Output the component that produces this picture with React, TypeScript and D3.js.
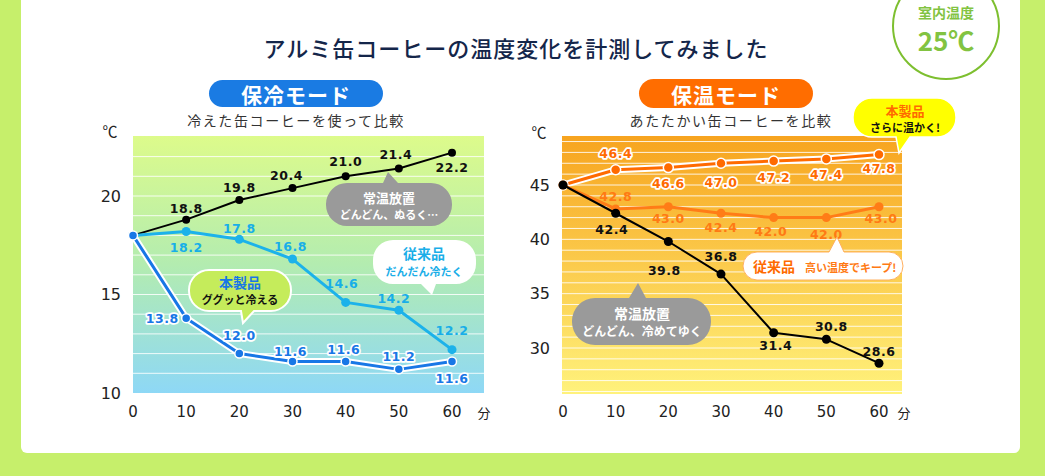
import React from 'react';
import * as d3 from 'd3';

const minutes = [0, 10, 20, 30, 40, 50, 60];
const xTickLabels = ['0', '10', '20', '30', '40', '50', '60'];

const coldRoom = [18, 18.8, 19.8, 20.4, 21.0, 21.4, 22.2];
const coldConventional = [18, 18.2, 17.8, 16.8, 14.6, 14.2, 12.2];
const coldProduct = [18, 13.8, 12.0, 11.6, 11.6, 11.2, 11.6];
const coldYTicks = [10, 15, 20];

const hotProduct = [45, 46.4, 46.6, 47.0, 47.2, 47.4, 47.8];
const hotConventional = [45, 42.8, 43.0, 42.4, 42.0, 42.0, 43.0];
const hotRoom = [45, 42.4, 39.8, 36.8, 31.4, 30.8, 28.6];
const hotYTicks = [30, 35, 40, 45];

// label offsets [dx, dy] relative to point (index 0 has no label)
const coldRoomOff = [[0, 0], [0, -11], [0, -12], [-6, -13], [0, -15], [-3, -14], [0, 15]];
const coldConvOff = [[0, 0], [0, 16], [0, -11], [-2, -13], [-4, -19], [-5, -12], [0, -19]];
const coldProdOff = [[0, 0], [-24, 0], [0, -18], [-2, -10], [-2, -12], [0, -13], [0, 17]];
const hotProdOff = [[0, 0], [0, -16], [0, 16], [0, 19], [0, 16], [0, 16], [0, 14]];
const hotConvOff = [[0, 0], [0, -12], [0, 12], [0, 14], [-3, 14], [0, 17], [2, 12]];
const hotRoomOff = [[0, 0], [-4, 16], [-4, 29], [0, -18], [2, 13], [5, -13], [0, -12]];

const JP = "'Noto Sans CJK JP','Noto Sans',sans-serif";
const NUM = "'DejaVu Sans',sans-serif";

function bubblePath(x: number, y: number, w: number, h: number, r: number,
  side: 'top' | 'bottom', x1: number, x2: number, tx: number, ty: number) {
  let p = `M${x + r},${y}`;
  if (side === 'top') p += `L${x1},${y}L${tx},${ty}L${x2},${y}`;
  p += `L${x + w - r},${y}A${r},${r} 0 0 1 ${x + w},${y + r}`;
  p += `L${x + w},${y + h - r}A${r},${r} 0 0 1 ${x + w - r},${y + h}`;
  if (side === 'bottom') p += `L${x2},${y + h}L${tx},${ty}L${x1},${y + h}`;
  p += `L${x + r},${y + h}A${r},${r} 0 0 1 ${x},${y + h - r}`;
  p += `L${x},${y + r}A${r},${r} 0 0 1 ${x + r},${y}Z`;
  return p;
}

type Series = {
  values: number[];
  color: string;
  width: number;
  halo: boolean;
  dotR: number;
  labelColor: string;
  labelHalo: boolean;
  offsets: number[][];
};

function SeriesView({ s, x, y }: { s: Series; x: d3.ScaleLinear<number, number>; y: d3.ScaleLinear<number, number> }) {
  const line = d3.line<number>().x((_, i) => x(minutes[i])).y(d => y(d));
  const d = line(s.values) || '';
  return (
    <g>
      {s.halo && <path d={d} fill="none" stroke="#fff" strokeWidth={s.width + 4} strokeLinejoin="round" />}
      <path d={d} fill="none" stroke={s.color} strokeWidth={s.width} strokeLinejoin="round" />
      {s.values.map((v, i) => (
        <circle key={i} cx={x(minutes[i])} cy={y(v)} r={s.dotR} fill={s.color}
          stroke={s.halo ? '#fff' : 'none'} strokeWidth={s.halo ? 1.5 : 0} />
      ))}
    </g>
  );
}

function SeriesLabels({ s, x, y }: { s: Series; x: d3.ScaleLinear<number, number>; y: d3.ScaleLinear<number, number> }) {
  return (
    <g>
      {s.values.map((v, i) => i === 0 ? null : (
        <text key={i} x={x(minutes[i]) + s.offsets[i][0]} y={y(v) + s.offsets[i][1]}
          textAnchor="middle" dominantBaseline="central" fontFamily={NUM} fontWeight="bold" fontSize={12.5}
          fill={s.labelColor} stroke={s.labelHalo ? '#fff' : 'none'} strokeWidth={s.labelHalo ? 3.5 : 0}
          strokeLinejoin="round" style={{ paintOrder: 'stroke' }} letterSpacing={0.5}>
          {v.toFixed(1)}
        </text>
      ))}
    </g>
  );
}

type ChartCfg = {
  id: string;
  plotL: number; plotR: number; plotT: number; plotB: number;
  x: d3.ScaleLinear<number, number>;
  y: d3.ScaleLinear<number, number>;
  yTicks: number[];
  grid: number[];
  gradTop: string; gradMid: string; gradBot: string;
  series: Series[];
  degX: number; degY: number;
  bunX: number;
};

function Chart({ c }: { c: ChartCfg }) {
  return (
    <g>
      <defs>
        <linearGradient id={c.id} x1="0" y1="0" x2="0" y2="1">
          <stop offset="0" stopColor={c.gradTop} />
          <stop offset="0.5" stopColor={c.gradMid} />
          <stop offset="1" stopColor={c.gradBot} />
        </linearGradient>
      </defs>
      <rect x={c.plotL} y={c.plotT} width={c.plotR - c.plotL} height={c.plotB - c.plotT} fill={`url(#${c.id})`} />
      {c.grid.map(g => (
        <line key={g} x1={c.plotL} x2={c.plotR} y1={c.y(g)} y2={c.y(g)} stroke="#fff" strokeOpacity={0.85} strokeWidth={1} />
      ))}
      {c.yTicks.map(t => (
        <text key={t} x={c.plotL - 12} y={c.y(t)} textAnchor="end" dominantBaseline="central"
          fontFamily={NUM} fontSize={16} fill="#222">{t}</text>
      ))}
      <text x={c.degX} y={c.degY} textAnchor="middle" dominantBaseline="central" fontFamily={JP} fontSize={15} fill="#222">℃</text>
      {minutes.map((m, i) => (
        <text key={m} x={c.x(m)} y={412} textAnchor="middle" dominantBaseline="central"
          fontFamily={NUM} fontSize={15} fill="#222">{xTickLabels[i]}</text>
      ))}
      <text x={c.bunX} y={412} textAnchor="middle" dominantBaseline="central" fontFamily={JP} fontSize={13} fill="#222">分</text>
      {c.series.map((s, i) => <SeriesView key={i} s={s} x={c.x} y={c.y} />)}
      {c.series.map((s, i) => <SeriesLabels key={i} s={s} x={c.x} y={c.y} />)}
    </g>
  );
}

export default function App() {
  const xL = d3.scaleLinear().domain([0, 60]).range([133, 452]);
  const yL = d3.scaleLinear().domain([10, 20]).range([393, 196]);
  const xR = d3.scaleLinear().domain([0, 60]).range([563, 879]);
  const yR = d3.scaleLinear().domain([30, 45]).range([348, 185]);

  const left: ChartCfg = {
    id: 'gradCold', plotL: 133, plotR: 484, plotT: 136, plotB: 393, x: xL, y: yL,
    yTicks: coldYTicks, grid: d3.range(11, 23, 1),
    gradTop: '#ddfb8b', gradMid: '#b3ecb0', gradBot: '#8ed8f6',
    degX: 110, degY: 130, bunX: 484,
    series: [
      { values: coldRoom, color: '#000', width: 2, halo: false, dotR: 4, labelColor: '#111', labelHalo: false, offsets: coldRoomOff },
      { values: coldConventional, color: '#1cb2ea', width: 3, halo: false, dotR: 4.5, labelColor: '#17aee8', labelHalo: false, offsets: coldConvOff },
      { values: coldProduct, color: '#1877e6', width: 3, halo: true, dotR: 4.5, labelColor: '#1877e6', labelHalo: true, offsets: coldProdOff },
    ],
  };
  const right: ChartCfg = {
    id: 'gradHot', plotL: 562, plotR: 902, plotT: 136, plotB: 394, x: xR, y: yR,
    yTicks: hotYTicks, grid: d3.range(26, 50, 1),
    gradTop: '#f7a41f', gradMid: '#fbcb4c', gradBot: '#fff27c',
    degX: 539, degY: 131, bunX: 904,
    series: [
      { values: hotProduct, color: '#ff6a00', width: 3, halo: true, dotR: 5, labelColor: '#ff6a00', labelHalo: true, offsets: hotProdOff },
      { values: hotConventional, color: '#ff7c17', width: 3, halo: false, dotR: 4.5, labelColor: '#ff7a14', labelHalo: false, offsets: hotConvOff },
      { values: hotRoom, color: '#000', width: 2, halo: false, dotR: 4.5, labelColor: '#111', labelHalo: false, offsets: hotRoomOff },
    ],
  };

  return (
    <svg width={1045} height={476} style={{ position: 'absolute', left: 0, top: 0 }}>
      <rect x={0} y={0} width={1045} height={476} fill="#c6ef6b" />
      <rect x={21} y={-10} width={999} height={463} rx={6} fill="#fff" />

      <text x={516} y={47} textAnchor="middle" dominantBaseline="central" fontFamily={JP} fontSize={22}
        fontWeight={500} letterSpacing={1} fill="#14264a">アルミ缶コーヒーの温度変化を計測してみました</text>

      {/* badge */}
      <circle cx={946} cy={26} r={53} fill="#fff" stroke="#7dbf2f" strokeWidth={2} />
      <text x={946} y={12} textAnchor="middle" dominantBaseline="central" fontFamily={JP} fontWeight="bold" fontSize={14} fill="#82c341">室内温度</text>
      <text x={946} y={39} textAnchor="middle" dominantBaseline="central" fontFamily={JP} fontWeight="bold" fontSize={26} fill="#82c341">25℃</text>

      {/* pills */}
      <rect x={209} y={80} width={174} height={27} rx={13.5} fill="#1a7be3" />
      <text x={296} y={94} textAnchor="middle" dominantBaseline="central" fontFamily={JP} fontWeight="bold" fontSize={21} letterSpacing={1} fill="#fff">保冷モード</text>
      <text x={296} y={120} textAnchor="middle" dominantBaseline="central" fontFamily={JP} fontSize={14} letterSpacing={1.6} fill="#333">冷えた缶コーヒーを使って比較</text>

      <rect x={639} y={79} width={174} height={29} rx={14.5} fill="#ff6d00" />
      <text x={726} y={94} textAnchor="middle" dominantBaseline="central" fontFamily={JP} fontWeight="bold" fontSize={21} letterSpacing={1} fill="#fff">保温モード</text>
      <text x={731} y={120} textAnchor="middle" dominantBaseline="central" fontFamily={JP} fontSize={14} letterSpacing={1.6} fill="#333">あたたかい缶コーヒーを比較</text>

      <Chart c={left} />
      <Chart c={right} />

      {/* left bubbles */}
      <path d={bubblePath(326, 183, 126, 43, 21, 'top', 383, 398, 388, 172)} fill="#9a9a9a" />
      <text x={389} y={197} textAnchor="middle" dominantBaseline="central" fontFamily={JP} fontWeight="bold" fontSize={13} fill="#fff">常温放置</text>
      <text x={389} y={214} textAnchor="middle" dominantBaseline="central" fontFamily={JP} fontWeight="bold" fontSize={11} fill="#fff">どんどん、ぬるく…</text>

      <path d={bubblePath(373, 240, 103, 44, 20, 'bottom', 421, 436, 432, 295)} fill="#fff" />
      <text x={424} y={253} textAnchor="middle" dominantBaseline="central" fontFamily={JP} fontWeight="bold" fontSize={14} fill="#1aaee8">従来品</text>
      <text x={424} y={271} textAnchor="middle" dominantBaseline="central" fontFamily={JP} fontWeight="bold" fontSize={11} fill="#1aaee8">だんだん冷たく</text>

      <path d={bubblePath(189, 270, 102, 41, 20, 'bottom', 241, 254, 243, 323)} fill="#c5ec5b" stroke="#fff" strokeWidth={2} />
      <text x={240} y={282} textAnchor="middle" dominantBaseline="central" fontFamily={JP} fontWeight="bold" fontSize={14} fill="#1877e6">本製品</text>
      <text x={240} y={299} textAnchor="middle" dominantBaseline="central" fontFamily={JP} fontWeight="bold" fontSize={11} fill="#111">ググッと冷える</text>

      {/* right bubbles */}
      <path d={bubblePath(853, 98, 103, 39, 19, 'bottom', 896, 910, 899, 153)} fill="#ffff00" stroke="#fff" strokeWidth={1.5} />
      <text x={905} y={110} textAnchor="middle" dominantBaseline="central" fontFamily={JP} fontWeight="bold" fontSize={13} fill="#ff6a00">本製品</text>
      <text x={905} y={127} textAnchor="middle" dominantBaseline="central" fontFamily={JP} fontWeight="bold" fontSize={11} fill="#111">さらに温かく!</text>

      <path d={bubblePath(743, 252, 160, 28, 14, 'top', 829, 844, 837, 237)} fill="#fff" stroke="#ffb060" strokeWidth={1} />
      <text x={753} y={266} dominantBaseline="central" fontFamily={JP} fontWeight="bold" fontSize={14} fill="#ff6a00">従来品</text>
      <text x={805} y={267} dominantBaseline="central" fontFamily={JP} fontWeight="bold" fontSize={11} fill="#ff7a14">高い温度でキープ!</text>

      <path d={bubblePath(572, 298, 139, 47, 23, 'top', 629, 646, 638, 283)} fill="#9a9a9a" />
      <text x={642} y={313} textAnchor="middle" dominantBaseline="central" fontFamily={JP} fontWeight="bold" fontSize={14} fill="#fff">常温放置</text>
      <text x={642} y={330} textAnchor="middle" dominantBaseline="central" fontFamily={JP} fontWeight="bold" fontSize={12} fill="#fff">どんどん、冷めてゆく</text>
    </svg>
  );
}
